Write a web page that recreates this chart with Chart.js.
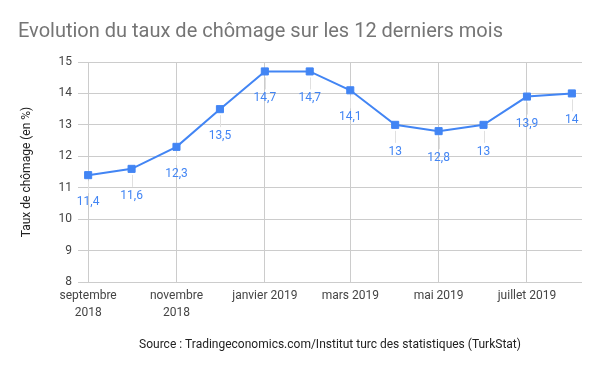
<!DOCTYPE html>
<html lang="fr">
<head>
<meta charset="utf-8">
<title>Evolution du taux de chômage</title>
<script src="https://cdn.jsdelivr.net/npm/chart.js@4/dist/chart.umd.min.js"></script>
<style>
    html, body { margin: 0; padding: 0; background: #fff; }
    #wrap { width: 600px; height: 371px; position: relative; }
</style>
</head>
<body>
<div id="wrap"><canvas id="chomageChart"></canvas></div>
<script>
// --- Données ---
const months = ['2018-09', '2018-10', '2018-11', '2018-12', '2019-01', '2019-02',
                '2019-03', '2019-04', '2019-05', '2019-06', '2019-07', '2019-08'];
const rates = [11.4, 11.6, 12.3, 13.5, 14.7, 14.7, 14.1, 13, 12.8, 13, 13.9, 14];
const tickMonths = ['2018-09', '2018-11', '2019-01', '2019-03', '2019-05', '2019-07'];
const tickLabels = [['septembre', '2018'], ['novembre', '2018'], 'janvier 2019', 'mars 2019', 'mai 2019', 'juillet 2019'];

const BLUE = '#4285f4';
const FONT = 'Roboto, sans-serif';

// jours depuis le premier mois (axe temporel simple)
function dayOffset(ym) {
    const [y, m] = ym.split('-').map(Number);
    const [y0, m0] = months[0].split('-').map(Number);
    return (Date.UTC(y, m - 1, 1) - Date.UTC(y0, m0 - 1, 1)) / 864e5;
}

const points = months.map((m, i) => ({ x: dayOffset(m), y: rates[i] }));
const tickValues = tickMonths.map(dayOffset);

// étiquettes sous chaque point, avec un petit trait
const pointLabels = {
    id: 'pointLabels',
    afterDatasetsDraw(chart) {
        const { ctx } = chart;
        const meta = chart.getDatasetMeta(0);
        ctx.save();
        meta.data.forEach((pt, i) => {
            ctx.strokeStyle = '#e0e0e0';
            ctx.lineWidth = 1;
            ctx.beginPath();
            ctx.moveTo(Math.round(pt.x) + 0.5, pt.y + 6);
            ctx.lineTo(Math.round(pt.x) + 0.5, pt.y + 18);
            ctx.stroke();
            ctx.fillStyle = BLUE;
            ctx.font = '12px ' + FONT;
            ctx.textAlign = 'center';
            ctx.textBaseline = 'middle';
            ctx.fillText(String(rates[i]).replace('.', ','), pt.x, pt.y + 27);
        });
        ctx.restore();
    }
};

new Chart(document.getElementById('chomageChart'), {
    type: 'line',
    data: {
        datasets: [{
            label: 'Taux de chômage',
            data: points,
            borderColor: BLUE,
            backgroundColor: BLUE,
            borderWidth: 2,
            pointStyle: 'rect',
            pointRadius: 5,
            pointBorderWidth: 1,
            pointBorderColor: BLUE,
            pointBackgroundColor: BLUE,
            tension: 0
        }]
    },
    options: {
        responsive: true,
        maintainAspectRatio: false,
        animation: false,
        layout: { padding: { left: 18, right: 18, top: 0, bottom: 0 } },
        plugins: {
            legend: { display: false },
            tooltip: { enabled: false },
            title: {
                display: true,
                text: 'Evolution du taux de chômage sur les 12 derniers mois',
                align: 'start',
                color: '#757575',
                font: { family: FONT, size: 20, weight: 'normal', lineHeight: 1.2 },
                padding: { top: 19.5, bottom: 18.5 }
            }
        },
        scales: {
            x: {
                type: 'linear',
                min: -7,
                max: dayOffset(months[months.length - 1]) + 7,
                afterBuildTicks: (scale) => { scale.ticks = tickValues.map(v => ({ value: v })); },
                afterFit: (scale) => { scale.height = 89; },
                grid: { color: '#cccccc', drawTicks: false },
                border: { display: false },
                ticks: {
                    padding: 6,
                    color: '#444444',
                    maxRotation: 0,
                    autoSkip: false,
                    font: { family: FONT, size: 12, lineHeight: 1.4 },
                    callback: (v) => {
                        const idx = tickValues.indexOf(v);
                        return idx >= 0 ? tickLabels[idx] : '';
                    }
                },
                title: {
                    display: true,
                    text: 'Source : Tradingeconomics.com/Institut turc des statistiques (TurkStat)',
                    color: '#222222',
                    font: { family: FONT, size: 12, lineHeight: 1.2 },
                    padding: { top: 0, bottom: 19 }
                }
            },
            y: {
                min: 8,
                max: 15,
                afterFit: (scale) => { scale.width = 60; },
                grid: { color: '#cccccc', drawTicks: false },
                border: { display: false },
                ticks: {
                    stepSize: 1,
                    padding: 6,
                    color: '#444444',
                    font: { family: FONT, size: 12 }
                },
                title: {
                    display: true,
                    text: 'Taux de chômage (en %)',
                    color: '#222222',
                    font: { family: FONT, size: 12, lineHeight: 1.2 },
                    padding: { top: 2, bottom: 0 }
                }
            }
        }
    },
    plugins: [pointLabels]
});
</script>
</body>
</html>
